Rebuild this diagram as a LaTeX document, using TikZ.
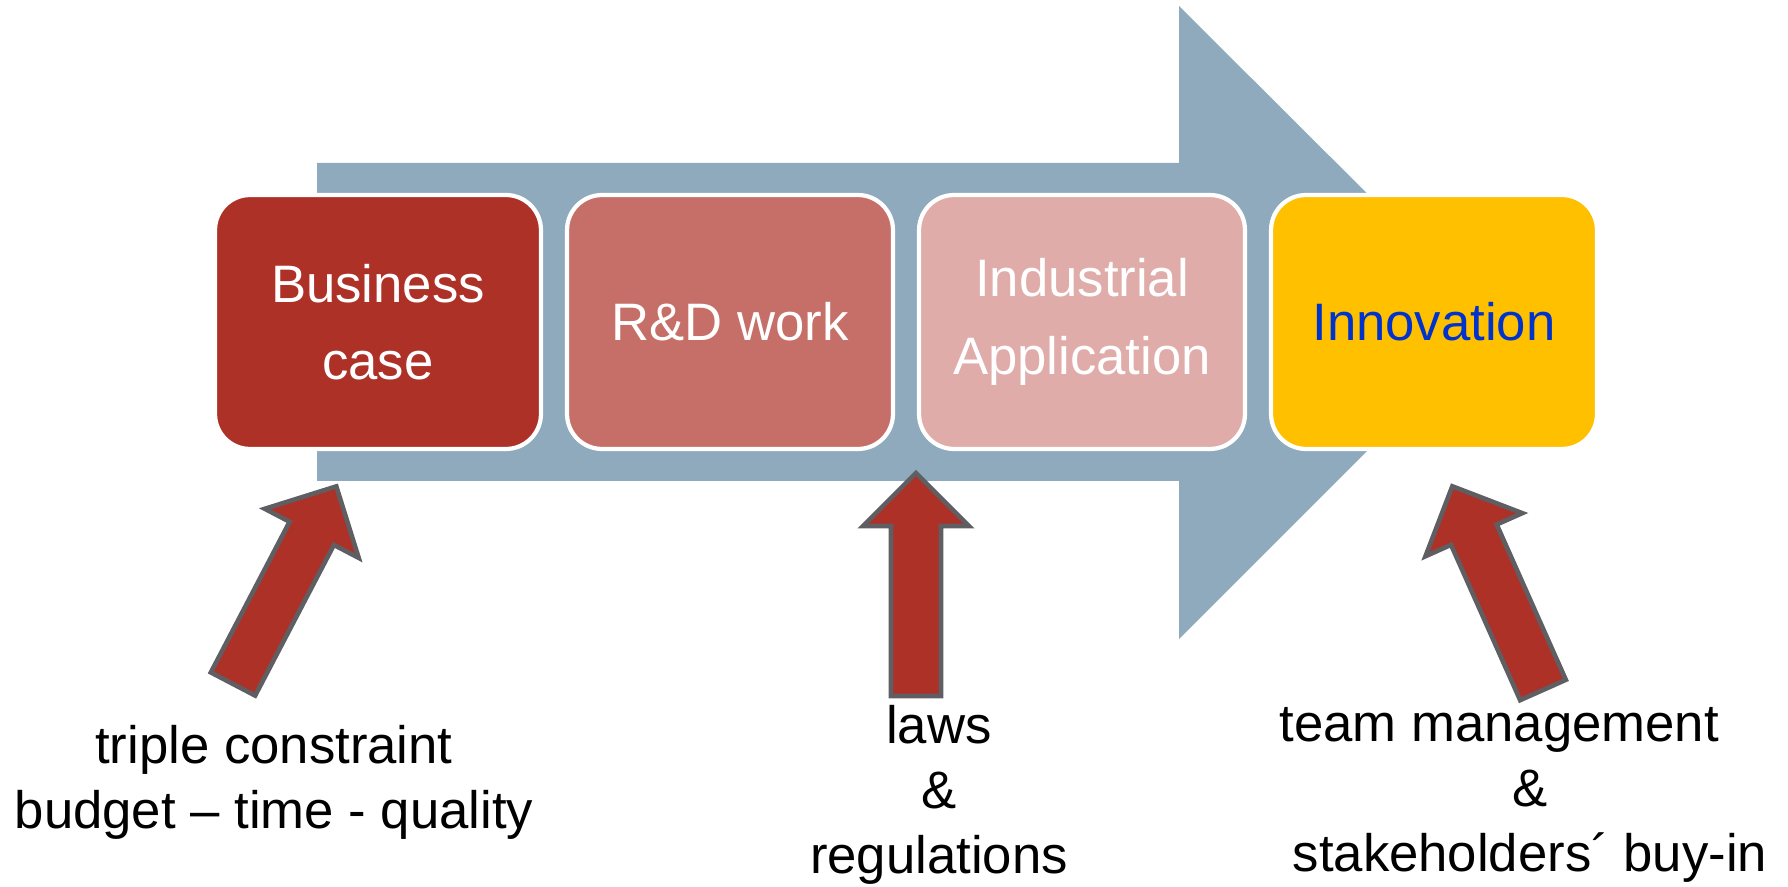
\documentclass[tikz,border=0pt]{standalone}
\usepackage{fontspec}
\setmainfont{Liberation Sans}
\usepackage{tikz}

\definecolor{flowblue}{RGB}{142,170,188}
\definecolor{casered}{RGB}{174,49,40}
\definecolor{workred}{RGB}{198,111,104}
\definecolor{apppink}{RGB}{223,172,169}
\definecolor{innogold}{RGB}{255,192,0}
\definecolor{innoblue}{RGB}{0,51,204}
\definecolor{pushgray}{RGB}{95,94,99}

\begin{document}
\begin{tikzpicture}[x=0.02cm, y=0.02cm,
        stage/.style={draw=white, line width=2.4pt, rounded corners=0.7cm,
          minimum width=6.52cm, minimum height=5.08cm, text=white,
          align=center, font=\fontsize{30}{44}\selectfont},
        push/.style={fill=casered, draw=pushgray, line width=2.6pt, line join=miter},
        cause/.style={align=center, font=\fontsize{30}{37}\selectfont}]

        \useasboundingbox (0,0) rectangle (1788,886);

        %Process arrow
        \fill [flowblue] (317,723) -- (1179,723) -- (1179,880) -- (1496,564)
          -- (1179,247) -- (1179,405) -- (317,405) -- cycle;

        %Stages
        \node [stage, fill=casered] (bcase) at (378,564) {Business\\case};
        \node [stage, fill=workred] (rdwork) at (730,564) {R\&D work};
        \node [stage, fill=apppink] (indapp) at (1082,564) {Industrial\\Application};
        \node [stage, fill=innogold, text=innoblue] (innov) at (1434,564) {Innovation};

        %Push arrows
        \draw [push, shift={(233,202)}, rotate=62.4] (0,-25) -- (170,-25) -- (170,-53)
          -- (223,0) -- (170,53) -- (170,25) -- (0,25) -- cycle;
        \draw [push, shift={(916,190)}, rotate=90] (0,-25) -- (170,-25) -- (170,-53)
          -- (223,0) -- (170,53) -- (170,25) -- (0,25) -- cycle;
        \draw [push, shift={(1543,196)}, rotate=114] (0,-25) -- (170,-25) -- (170,-53)
          -- (223,0) -- (170,53) -- (170,25) -- (0,25) -- cycle;

        %Causes
        \node [cause] (triple) at (274,104) {triple constraint\\budget -- time - quality};
        \node [cause] (laws) at (939,91) {laws\\\&\\regulations};
        \node [cause] (team) at (1530,91) {team management\hspace*{35pt}\\\&\\stakeholders´ buy-in};

      \end{tikzpicture}
\end{document}
